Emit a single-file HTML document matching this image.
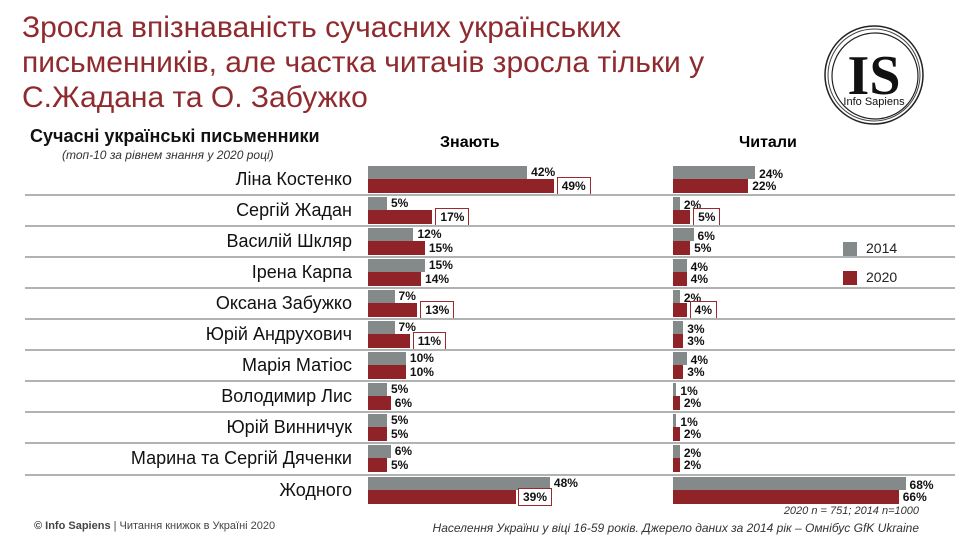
<!DOCTYPE html>
<html><head><meta charset="utf-8"><style>
body{margin:0;width:960px;height:540px;background:#fff;position:relative;overflow:hidden;font-family:"Liberation Sans","Noto Sans CJK SC",sans-serif;}
.a{position:absolute;white-space:nowrap}
.t{left:22px;top:10px;font-size:30px;line-height:35px;color:#8f2a2e;}
.lab{right:608px;font-size:18px;color:#111;}
.v{font-size:12px;font-weight:bold;color:#111;}
.box{border:1px solid #9b2a2e;padding:1px 4px;background:#fff}
.g{background:#848a8a;position:absolute;height:13px}
.r{background:#8f2328;position:absolute;height:14px}
.sep{position:absolute;left:25px;width:930px;height:2px;background:#b0b3b3}
</style></head><body>
<div class="a t">Зросла впізнаваність сучасних українських<br>письменників, але частка читачів зросла тільки у<br>С.Жадана та О. Забужко</div>
<svg class="a" style="left:820px;top:24px" width="120" height="105" viewBox="0 0 120 105">
<circle cx="54" cy="51" r="49" fill="none" stroke="#222" stroke-width="1.5"/>
<circle cx="54" cy="51" r="46" fill="none" stroke="#444" stroke-width="1"/>
<circle cx="55" cy="52" r="43" fill="none" stroke="#222" stroke-width="1.2"/>
<text x="54" y="70" text-anchor="middle" font-family="Liberation Serif,serif" font-weight="bold" font-size="56" fill="#111">IS</text>
<text x="54" y="81" text-anchor="middle" font-family="Liberation Sans,sans-serif" font-size="11" fill="#111">Info Sapiens</text>
</svg>
<div class="a" style="left:30px;top:126px;font-size:18px;font-weight:bold;color:#111">Сучасні українські письменники</div>
<div class="a" style="left:62px;top:148px;font-size:12px;font-style:italic;color:#333">(топ-10 за рівнем знання у 2020 році)</div>
<div class="a" style="left:440px;top:134px;font-size:16px;font-weight:bold">Знають</div>
<div class="a" style="left:739px;top:134px;font-size:16px;font-weight:bold">Читали</div>
<div id="c"></div>
<div class="a" style="left:843px;top:242px;width:14px;height:14px;background:#848a8a"></div>
<div class="a" style="left:866px;top:240px;font-size:14px;color:#222">2014</div>
<div class="a" style="left:843px;top:271px;width:14px;height:14px;background:#8f2328"></div>
<div class="a" style="left:866px;top:269px;font-size:14px;color:#222">2020</div>
<div class="a" style="right:41px;top:505px;font-size:11px;font-style:italic;color:#333">2020 n = 751; 2014 n=1000</div>
<div class="a" style="left:34px;top:520px;font-size:11px;color:#444"><b>© Info Sapiens</b> | Читання книжок в Україні 2020</div>
<div class="a" style="right:41px;top:521px;font-size:12px;font-style:italic;color:#333">Населення України у віці 16-59 років. Джерело даних за 2014 рік – Омнібус GfK Ukraine</div>
<script>
var d=[["Ліна Костенко",42,49,24,22,1,0],["Сергій Жадан",5,17,2,5,1,1],["Василій Шкляр",12,15,6,5,0,0],["Ірена Карпа",15,14,4,4,0,0],["Оксана Забужко",7,13,2,4,1,1],["Юрій Андрухович",7,11,3,3,1,0],["Марія Матіос",10,10,4,3,0,0],["Володимир Лис",5,6,1,2,0,0],["Юрій Винничук",5,5,1,2,0,0],["Марина та Сергій Дяченки",6,5,2,2,0,0],["Жодного",48,39,68,66,0,0]];
var h="";
d.forEach(function(r,i){
 var y=166+i*31.05;
 if(i>0)h+='<div class="sep" style="top:'+(y-3)+'px"></div>';
 h+='<div class="a lab" style="top:'+(y+3)+'px">'+r[0]+'</div>';
 var k=3.79,q=3.42;
 h+='<div class="g" style="left:368px;top:'+y+'px;width:'+(r[1]*k)+'px"></div>';
 h+='<div class="r" style="left:368px;top:'+(y+13)+'px;width:'+(r[2]*k)+'px"></div>';
 h+='<div class="a v" style="left:'+(372+r[1]*k)+'px;top:'+(y-1)+'px">'+r[1]+'%</div>';
 if(i==10) h+='<div class="a v box" style="left:'+(518)+'px;top:'+(y+11)+'px">'+r[2]+'%</div>';
 else h+='<div class="a v'+(r[5]?' box':'')+'" style="left:'+(r[5]?368+r[2]*k+3:372+r[2]*k)+'px;top:'+(y+(r[5]?11:13))+'px">'+r[2]+'%</div>';
 h+='<div class="g" style="left:673px;top:'+y+'px;width:'+(r[3]*q)+'px"></div>';
 h+='<div class="r" style="left:673px;top:'+(y+13)+'px;width:'+(r[4]*q)+'px"></div>';
 h+='<div class="a v" style="left:'+(677+r[3]*q)+'px;top:'+(y+1)+'px">'+r[3]+'%</div>';
 h+='<div class="a v'+(r[6]?' box':'')+'" style="left:'+(r[6]?673+r[4]*q+3:677+r[4]*q)+'px;top:'+(y+(r[6]?11:13))+'px">'+r[4]+'%</div>';
});
document.getElementById("c").innerHTML=h;
</script>
</body></html>
